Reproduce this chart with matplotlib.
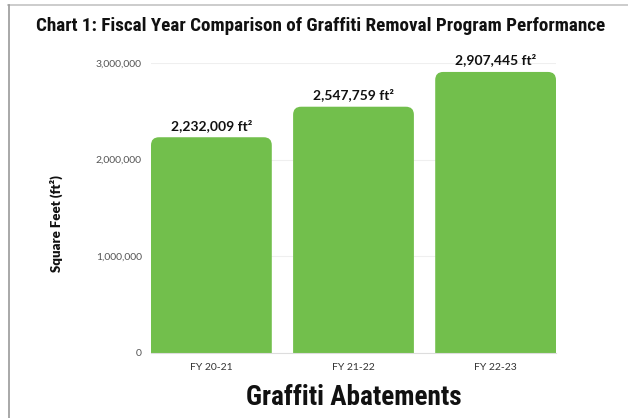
import matplotlib.pyplot as plt
from matplotlib import font_manager
from matplotlib.patches import FancyBboxPatch
from matplotlib.lines import Line2D

fiscal_years = ["FY 20-21", "FY 21-22", "FY 22-23"]
square_feet = [2232009, 2547759, 2907445]
y_ticks = [0, 1000000, 2000000, 3000000]

BAR_GREEN = "#72bf4c"
TEXT_FONT = ["Lato", "DejaVu Sans"]

# pick a narrow bold face for the headings if one is installed
installed = {f.name for f in font_manager.fontManager.ttflist}
narrow_name = next((n for n in ["Roboto Condensed", "Liberation Sans Narrow",
                                "Open Sans Condensed", "Noto Sans Condensed"]
                    if n in installed), None)
if narrow_name:
    NARROW = dict(family=[narrow_name, "DejaVu Sans"])
else:
    NARROW = dict(family=["DejaVu Sans"], fontstretch="condensed")

fig = plt.figure(figsize=(6.28, 4.18), dpi=100)
ax = fig.add_axes([151 / 628, 65 / 418, 405 / 628, 290 / 418])

bar_width = 0.85
ax.set_xlim(-0.5 + (1 - bar_width) / 2, len(square_feet) - 0.5 - (1 - bar_width) / 2)
ax.set_ylim(0, 3000000)

# corner radius in pixels, turned into data units on each axis
radius_px = 8
x0, y0 = ax.transData.inverted().transform((0, 0))
x1, y1 = ax.transData.inverted().transform((radius_px, radius_px))
rx, ry = x1 - x0, y1 - y0

for i, value in enumerate(square_feet):
    # start below zero so only the top corners show rounded
    bar = FancyBboxPatch((i - bar_width / 2, -ry), bar_width, value + ry,
                         boxstyle=f"round,pad=0,rounding_size={rx}",
                         mutation_aspect=ry / rx,
                         facecolor=BAR_GREEN, edgecolor="none", zorder=2)
    ax.add_patch(bar)
    ax.annotate(f"{value:,} ft²", (i, value), xytext=(0, 4),
                textcoords="offset points", ha="center", va="bottom",
                fontsize=10, fontweight="bold", family=TEXT_FONT,
                color="#111111", annotation_clip=False)

ax.set_xticks(range(len(fiscal_years)))
ax.set_xticklabels(fiscal_years, family=TEXT_FONT, fontsize=7.5, color="#333333")
ax.set_yticks(y_ticks)
ax.set_yticklabels([f"{t:,}" for t in y_ticks], family=TEXT_FONT,
                   fontsize=7.5, color="#555555")
ax.tick_params(length=0)
ax.tick_params(axis="y", pad=6.5)
ax.tick_params(axis="x", pad=7)

ax.yaxis.grid(True, color="#efefef", linewidth=0.8)
ax.set_axisbelow(True)
for side in ["top", "right", "left"]:
    ax.spines[side].set_visible(False)
ax.spines["bottom"].set_color("#dddddd")
ax.spines["bottom"].set_linewidth(0.8)

ax.set_ylabel("Square Feet (ft²)", family=TEXT_FONT, fontsize=9.5,
              fontweight="heavy", color="#111111")
ax.yaxis.set_label_coords(-0.217, 0.448)

xlabel = ax.text(0.5, -0.155, "Graffiti Abatements", transform=ax.transAxes,
                 ha="center", va="center", fontsize=17, fontweight="bold",
                 color="#111111", **NARROW)

title = fig.text(0.510, 0.938,
                 "Chart 1: Fiscal Year Comparison of Graffiti Removal Program Performance",
                 ha="center", va="center", fontsize=13, fontweight="bold",
                 color="#111111", **NARROW)


def fit_width(txt, width_px, max_size):
    # shrink a heading until it spans the wanted width
    renderer = fig.canvas.get_renderer()
    w = txt.get_window_extent(renderer).width
    txt.set_fontsize(min(max_size, txt.get_fontsize() * width_px / w))


fit_width(title, 567, 14)
fit_width(xlabel, 215, 20)

# frame edges along top and left
fig.add_artist(Line2D([8 / 628, 1], [1 - 5 / 418, 1 - 5 / 418],
                      color="#c4c4c4", linewidth=1.2))
fig.add_artist(Line2D([9 / 628, 9 / 628], [0, 1 - 5 / 418],
                      color="#9a9a9a", linewidth=1.2))

fig.savefig("out.png", dpi=100)
